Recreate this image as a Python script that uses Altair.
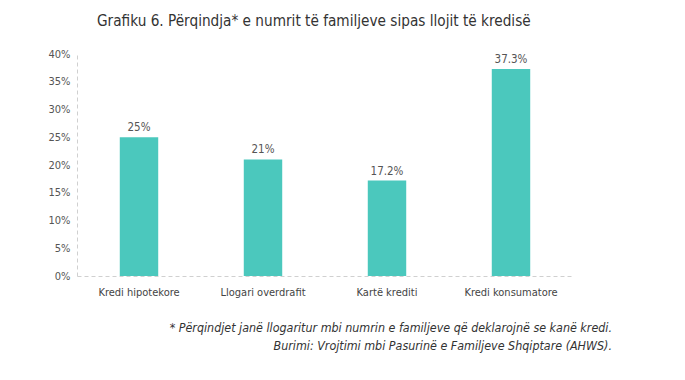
import altair as alt
import pandas as pd

categories = ["Kredi hipotekore", "Llogari overdrafit", "Kartë krediti", "Kredi konsumatore"]
values = [0.25, 0.21, 0.172, 0.373]
labels = ["25%", "21%", "17.2%", "37.3%"]
y_ticks = [0, 0.05, 0.1, 0.15, 0.2, 0.25, 0.3, 0.35, 0.4]

title_text = "Grafiku 6. Përqindja* e numrit të familjeve sipas llojit të kredisë"
note1 = "* Përqindjet janë llogaritur mbi numrin e familjeve që deklarojnë se kanë kredi."
note2 = "Burimi: Vrojtimi mbi Pasurinë e Familjeve Shqiptare (AHWS)."

df = pd.DataFrame({"cat": categories, "val": values, "lab": labels})

FONT = "DejaVu Sans Condensed, sans-serif"
BAR = "#4BC8BD"

x = alt.X("cat:N", sort=categories, title=None,
          scale=alt.Scale(paddingInner=0.69, paddingOuter=0.345),
          axis=alt.Axis(labelAngle=0, ticks=False, domainDash=[4, 3], domainColor="#d0d0d0",
                        labelPadding=10, labelFontSize=11, labelColor="#444", labelFont=FONT))
y = alt.Y("val:Q", title=None,
          scale=alt.Scale(domain=[0, 0.4], nice=False),
          axis=alt.Axis(values=y_ticks, tickCount=9, format=".0%",
                        grid=False, ticks=False, domainDash=[4, 3], domainColor="#d0d0d0",
                        labelOverlap=False, labelSeparation=0, labelPadding=7, labelFontSize=11,
                        labelColor="#555", labelFont=FONT))

base = alt.Chart(df).encode(x=x, y=y)
bars = base.mark_bar(color=BAR)
text = base.mark_text(dy=-9, fontSize=11.5, color="#555", font=FONT).encode(text="lab:N")

title = alt.Chart(pd.DataFrame({"t": [title_text]})).mark_text(
    align="left", baseline="alphabetic", fontSize=15.2, color="#333", font=FONT).encode(
    x=alt.value(20), y=alt.value(-28), text="t:N")

foot1 = alt.Chart(pd.DataFrame({"t": [note1]})).mark_text(
    align="right", baseline="alphabetic", fontSize=12.4, fontStyle="italic", color="#333", font=FONT
).encode(x=alt.value(535), y=alt.value(278), text="t:N")
foot2 = alt.Chart(pd.DataFrame({"t": [note2]})).mark_text(
    align="right", baseline="alphabetic", fontSize=12.4, fontStyle="italic", color="#333", font=FONT
).encode(x=alt.value(535), y=alt.value(296), text="t:N")

chart = alt.layer(bars, text, title, foot1, foot2).properties(
    width=496, height=222,
    autosize=alt.AutoSizeParams(type="none"),
    padding={"left": 69, "top": 46, "right": 104, "bottom": 96},
).configure_view(stroke=None)

chart.save("out.html", embed_options={"renderer": "svg", "actions": False})
